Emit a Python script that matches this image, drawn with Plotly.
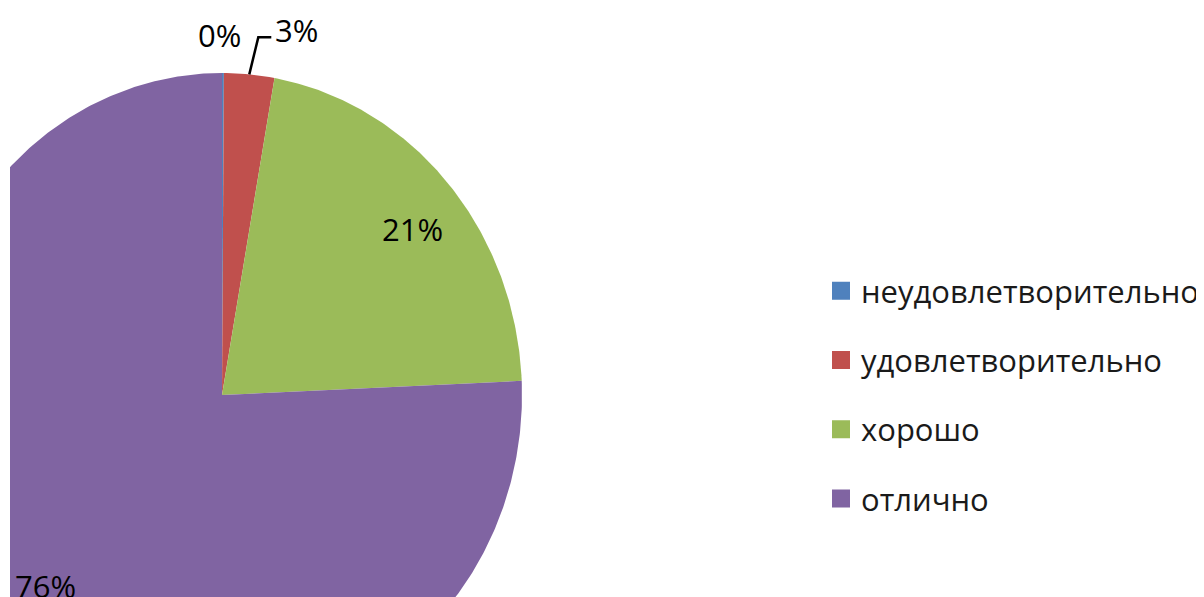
import math
import plotly.graph_objects as go

# ---- data ----
categories = ["неудовлетворительно", "удовлетворительно", "хорошо", "отлично"]
values = [0.1, 2.7, 21.5, 75.7]
labels = ["0%", "3%", "21%", "76%"]
colors = ["#4F81BD", "#C0504D", "#9BBB59", "#8064A2"]

# per-label pixel nudges (style only)
label_shift = [(0, 0), (0, 0), (5, -8), (-6, 0)]

# ---- geometry (pixel-like layout constants, in figure coords) ----
OFF = 8                    # page body margin
W, H = 1204, 597
CX, CY = 222 - OFF, 395 - OFF   # pie centre in px
RX, RY = 300, 322          # radii in px (stretched pie)
LEFT = 10 - OFF            # plot area left margin

FONT = "Open Sans"
FS = 31

fig = go.Figure()

total = sum(values)
cum = 0.0
mids = []
for cat, v, col in zip(categories, values, colors):
    a0 = cum / total * 2 * math.pi
    cum += v
    a1 = cum / total * 2 * math.pi
    n = max(4, int((a1 - a0) / (2 * math.pi) * 720))
    xs, ys = [0.0], [0.0]
    for i in range(n + 1):
        a = a0 + (a1 - a0) * i / n
        xs.append(math.sin(a))
        ys.append(math.cos(a))
    xs.append(0.0)
    ys.append(0.0)
    fig.add_trace(go.Scatter(x=xs, y=ys, mode="lines", fill="toself",
                             fillcolor=col, line=dict(width=0, color=col),
                             hoverinfo="skip", showlegend=False))
    mids.append((a0 + a1) / 2)

# legend entries
for i, (cat, col) in enumerate(zip(categories, colors)):
    fig.add_trace(go.Scatter(x=[None], y=[None], mode="markers", name=cat,
                             legendgroup=str(i),
                             marker=dict(symbol="square", size=16, color=col,
                                         line=dict(width=2, color=col))))

# labels
for i, (lab, v, m) in enumerate(zip(labels, values, mids)):
    ex, ey = math.sin(m), math.cos(m)
    sx, sy = label_shift[i]
    if v / total >= 0.1:
        fig.add_annotation(x=0.82 * ex, y=0.82 * ey, text=lab, showarrow=False,
                           xshift=sx, yshift=sy,
                           xref="x", yref="y", font=dict(family=FONT, size=FS, color="#000"))
    elif i == 0:
        fig.add_annotation(x=ex - 3 / RX, y=ey + 38 / RY, text=lab, showarrow=False,
                           xref="x", yref="y", font=dict(family=FONT, size=FS, color="#000"))
    else:
        kx, ky = ex + 9 / RX, ey + 37 / RY
        hx = kx + 13 / RX
        fig.add_trace(go.Scatter(x=[ex, kx, hx], y=[ey, ky, ky], mode="lines",
                                 line=dict(color="#000", width=2.5),
                                 hoverinfo="skip", showlegend=False))
        fig.add_annotation(x=hx + 2 / RX, y=ky + 7 / RY, text=lab, showarrow=False,
                           xanchor="left", xref="x", yref="y",
                           font=dict(family=FONT, size=FS, color="#000"))

fig.update_xaxes(range=[(LEFT - CX) / RX, (W - CX) / RX], visible=False, fixedrange=True)
fig.update_yaxes(range=[(CY - H) / RY, CY / RY], visible=False, fixedrange=True)

fig.update_layout(
    width=W, height=H,
    margin=dict(l=LEFT, r=0, t=0, b=0),
    paper_bgcolor="white", plot_bgcolor="white",
    font=dict(family=FONT, size=FS, color="#000"),
    legend=dict(x=(821 - OFF - LEFT) / (W - LEFT), y=1 - (264 - OFF) / H,
                xanchor="left", yanchor="top",
                bgcolor="rgba(0,0,0,0)", tracegroupgap=26, itemclick=False,
                font=dict(family=FONT, size=FS, color="#1a1a1a")),
)

fig.write_html("out.html")
